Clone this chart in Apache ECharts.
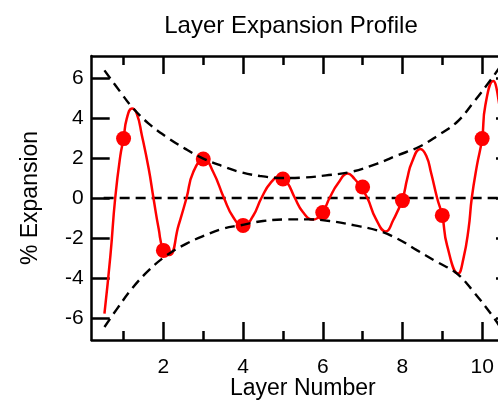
<!DOCTYPE html>
<html>
<head>
<meta charset="utf-8">
<script src="https://cdn.jsdelivr.net/npm/echarts@6/dist/echarts.min.js"></script>
<style>
html, body { margin: 0; padding: 0; overflow: hidden; background: #fff; }
#chart { width: 520px; height: 400px; }
</style>
</head>
<body>
<div id="chart"></div>
<script>
// ---- data ----
const layers = [1, 2, 3, 4, 5, 6, 7, 8, 9, 10];
const expansion = [2.97, -2.62, 1.95, -1.37, 0.95, -0.73, 0.55, -0.13, -0.87, 2.97];

// fitted curve (red)
const fitX = [0.52, 0.67, 0.79, 0.92, 1.0, 1.08, 1.21, 1.33, 1.46, 1.63, 1.75, 1.88, 2.0, 2.15, 2.38, 2.58, 2.75, 3.02, 3.25, 3.52, 3.75, 4.0, 4.25, 4.46, 4.7, 4.93, 5.1, 5.3, 5.5, 5.75, 6.0, 6.17, 6.38, 6.63, 6.8, 6.95, 7.12, 7.33, 7.58, 7.77, 8.0, 8.12, 8.24, 8.45, 8.6, 8.72, 8.87, 9.0, 9.12, 9.4, 9.53, 9.66, 9.74, 9.87, 10.0, 10.08, 10.28, 10.38, 10.5];
const fitY = [-5.78, -2.87, 0.0, 2.13, 2.97, 3.97, 4.47, 4.22, 3.13, 1.47, 0.0, -1.53, -2.62, -2.85, -1.37, 0.0, 1.3, 1.95, 1.3, 0.0, -0.95, -1.42, -0.9, 0.0, 0.78, 1.08, 0.8, 0.0, -0.7, -1.08, -0.68, 0.0, 0.72, 1.22, 0.95, 0.55, 0.0, -1.03, -1.67, -1.1, -0.05, 0.97, 1.8, 2.45, 2.1, 1.25, 0.0, -0.9, -2.37, -3.78, -3.03, -1.53, 0.0, 1.63, 2.97, 4.63, 5.85, 5.3, 3.5];

// envelopes (dashed)
const upperX = [0.52, 0.92, 1.21, 1.63, 2.08, 2.54, 3.0, 3.5, 3.92, 4.42, 5.0, 5.5, 6.08, 6.7, 7.37, 7.87, 8.41, 8.87, 9.37, 9.79, 10.24, 10.5];
const upperY = [6.38, 5.3, 4.55, 3.72, 3.05, 2.47, 1.97, 1.58, 1.3, 1.1, 1.0, 1.02, 1.13, 1.3, 1.72, 2.13, 2.55, 3.1, 3.8, 4.8, 5.97, 6.7];
const lowerX = [0.52, 0.84, 1.21, 1.63, 2.08, 2.58, 3.04, 3.5, 3.92, 4.5, 5.08, 5.63, 6.17, 6.8, 7.37, 7.87, 8.37, 8.87, 9.37, 9.79, 10.28, 10.5];
const lowerY = [-6.45, -5.53, -4.53, -3.62, -2.87, -2.28, -1.87, -1.53, -1.37, -1.15, -1.07, -1.07, -1.15, -1.37, -1.62, -2.03, -2.62, -3.2, -3.78, -4.7, -5.95, -6.6];

const zeroX = [0.5, 10.5];
const zeroY = [0, 0];

const xMajor = [2, 4, 6, 8, 10];
const xMinor = [1, 3, 5, 7, 9];
const yMajor = [-6, -4, -2, 0, 2, 4, 6];

const xMin = 0.2, xMax = 10.8, yMin = -7.1, yMax = 7.1;
// ---------------------------------------

const pairs = (xs, ys) => xs.map((x, i) => [x, ys[i]]);
const FONT = 'Liberation Sans, Arial, sans-serif';
const AXIS_LINE = { show: true, onZero: false, lineStyle: { color: '#000', width: 2.5 } };
const TICK_STYLE = { color: '#000', width: 2.5 };

function majorX(position, withLabels) {
  return {
    type: 'value', position: position, min: xMin, max: xMax, offset: 0,
    axisLine: AXIS_LINE,
    axisTick: { show: true, inside: true, length: 18, customValues: xMajor, lineStyle: TICK_STYLE },
    axisLabel: withLabels ? { show: true, customValues: xMajor, margin: 17,
                fontSize: 21, color: '#000', fontFamily: FONT } : { show: false },
    splitLine: { show: false },
    name: withLabels ? 'Layer Number' : '',
    nameLocation: 'middle', nameGap: 37, nameMoveOverlap: false,
    nameTextStyle: { fontSize: 23, color: '#000', fontFamily: FONT }
  };
}
// minor x ticks: an axis pinned (onZero) to the zero of a blank helper y axis whose zero lies on the plot edge
function minorX(helperIndex, inside) {
  return {
    type: 'value', min: xMin, max: xMax,
    axisLine: { show: false, onZero: true, onZeroAxisIndex: helperIndex },
    axisTick: { show: true, inside: inside, length: 9, customValues: xMinor, lineStyle: TICK_STYLE },
    axisLabel: { show: false },
    splitLine: { show: false }
  };
}
function yAxisDef(position, withLabels) {
  return {
    type: 'value', position: position, min: yMin, max: yMax, offset: 0,
    axisLine: AXIS_LINE,
    axisTick: { show: true, inside: true, length: 18, customValues: yMajor, lineStyle: TICK_STYLE },
    axisLabel: withLabels ? { show: true, customValues: yMajor, margin: 8,
                fontSize: 21, color: '#000', fontFamily: FONT } : { show: false },
    splitLine: { show: false },
    name: withLabels ? '% Expansion' : '',
    nameLocation: 'middle', nameGap: 50, nameMoveOverlap: false,
    nameTextStyle: { fontSize: 23, color: '#000', fontFamily: FONT }
  };
}
// blank helper axis (draws nothing), only used as the onZero anchor
function helperY(position, lo, hi) {
  return { type: 'value', show: true, position: position, min: lo, max: hi,
           axisLine: { show: false, onZero: false }, axisTick: { show: false },
           axisLabel: { show: false }, splitLine: { show: false } };
}

const chart = echarts.init(document.getElementById('chart'), null, { renderer: 'canvas' });
const dashStyle = { color: '#000', width: 2.4, type: [10, 6] };
chart.setOption({
  animation: false,
  backgroundColor: '#fff',
  title: {
    text: 'Layer Expansion Profile', left: 286, top: 9, textAlign: 'center',
    textStyle: { fontSize: 24, fontWeight: 'normal', color: '#000', fontFamily: FONT }
  },
  grid: { left: 91.7, right: 6, top: 56, bottom: 60, containLabel: false, outerBoundsMode: 'none' },
  xAxis: [
    majorX('bottom', true),
    majorX('top', false),
    minorX(2, false),
    minorX(3, true)
  ],
  yAxis: [
    yAxisDef('left', true),
    yAxisDef('right', false),
    helperY('left', 0, yMax - yMin),
    helperY('right', yMin - yMax, 0)
  ],
  series: [
    { type: 'line', name: 'zero', data: pairs(zeroX, zeroY), showSymbol: false,
      lineStyle: dashStyle, z: 2, silent: true },
    { type: 'line', name: 'fit', data: pairs(fitX, fitY), smooth: 0.5, showSymbol: false,
      lineStyle: { color: '#ff0000', width: 2.5 }, z: 3, silent: true },
    { type: 'scatter', name: 'data', data: pairs(layers, expansion), symbol: 'circle',
      symbolSize: 15, itemStyle: { color: '#ff0000', opacity: 1 }, z: 4, silent: true },
    { type: 'line', name: 'upper', data: pairs(upperX, upperY), smooth: 0.4, showSymbol: false,
      lineStyle: dashStyle, z: 5, silent: true },
    { type: 'line', name: 'lower', data: pairs(lowerX, lowerY), smooth: 0.4, showSymbol: false,
      lineStyle: dashStyle, z: 5, silent: true }
  ]
});
</script>
</body>
</html>
